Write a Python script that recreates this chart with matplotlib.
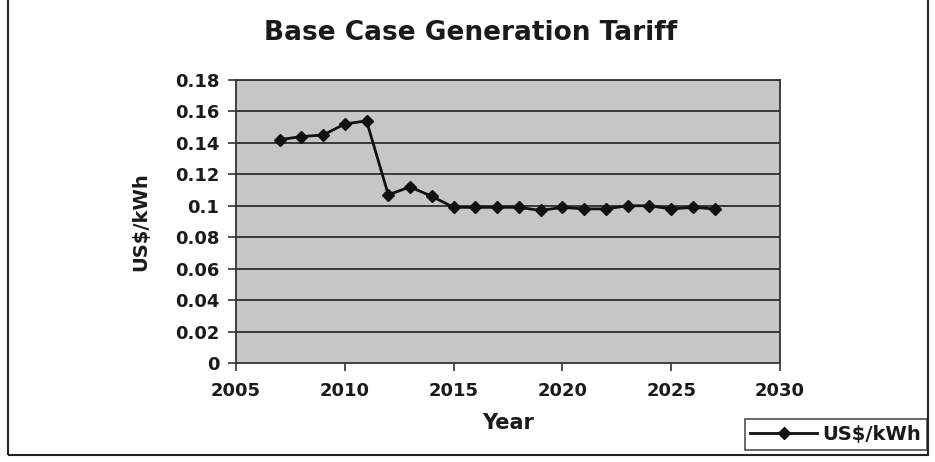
import matplotlib
matplotlib.use("Agg")
import matplotlib.pyplot as plt
from matplotlib.patches import Rectangle


# base case generation tariff, US$/kWh per year
years = [2007, 2008, 2009, 2010, 2011, 2012, 2013, 2014, 2015, 2016, 2017,
         2018, 2019, 2020, 2021, 2022, 2023, 2024, 2025, 2026, 2027]
tariff = [0.142, 0.144, 0.145, 0.152, 0.154, 0.107, 0.112, 0.106, 0.099, 0.099, 0.099,
          0.099, 0.097, 0.099, 0.098, 0.098, 0.100, 0.100, 0.098, 0.099, 0.098]

x_ticks = [2005, 2010, 2015, 2020, 2025, 2030]
y_ticks = [0, 0.02, 0.04, 0.06, 0.08, 0.1, 0.12, 0.14, 0.16, 0.18]
y_tick_labels = ["0", "0.02", "0.04", "0.06", "0.08", "0.1", "0.12", "0.14", "0.16", "0.18"]

TEXT = "#1a1a1a"
plt.rcParams["font.family"] = ["DejaVu Sans"]

fig = plt.figure(figsize=(9.35, 4.62), dpi=100)
ax = fig.add_axes([0.2524, 0.2143, 0.5818, 0.6126])
ax.set_facecolor("#c6c6c6")

for y in y_ticks[1:]:
    ax.axhline(y, color="#2e2e2e", linewidth=1.3, zorder=1)

line, = ax.plot(years, tariff, color="#111111", linewidth=2.0, marker="D",
                markersize=6.5, markerfacecolor="#111111", markeredgecolor="#111111",
                zorder=3, label="US$/kWh")

ax.set_xlim(2005, 2030)
ax.set_ylim(0, 0.18)
ax.set_xticks(x_ticks)
ax.set_yticks(y_ticks)
ax.set_yticklabels(y_tick_labels)
ax.tick_params(axis="both", direction="out", length=6, width=1.2, color="#333333",
               labelsize=13, labelcolor=TEXT)
ax.tick_params(axis="x", pad=8)
ax.tick_params(axis="y", pad=6)
for lbl in ax.get_xticklabels() + ax.get_yticklabels():
    lbl.set_fontweight("bold")

for side in ["left", "bottom", "right", "top"]:
    ax.spines[side].set_color("#333333")
    ax.spines[side].set_linewidth(1.3)

ax.set_xlabel("Year", fontsize=15, fontweight="bold", color=TEXT, labelpad=9)
ax.set_ylabel("US$/kWh", fontsize=14, fontweight="bold", color=TEXT, labelpad=18)
fig.text(0.503, 0.928, "Base Case Generation Tariff", ha="center", va="center",
         fontsize=19, fontweight="bold", color=TEXT)

# outer chart frame
fig.patches.append(Rectangle((8 / 935, 1 - 455 / 462), 920 / 935, 460 / 462,
                             transform=fig.transFigure, fill=False,
                             edgecolor="#222222", linewidth=1.5))

leg = fig.legend(handles=[line], loc="lower right", bbox_to_anchor=(927 / 935, 1 - 450 / 462),
                 frameon=True, fancybox=False, prop={"size": 14, "weight": "bold"},
                 handlelength=3.4, borderpad=0.3, handletextpad=0.3, borderaxespad=0)
leg.get_frame().set_edgecolor("#222222")
leg.get_frame().set_linewidth(1.2)
for t in leg.get_texts():
    t.set_color(TEXT)

fig.savefig("out.png", dpi=100)
